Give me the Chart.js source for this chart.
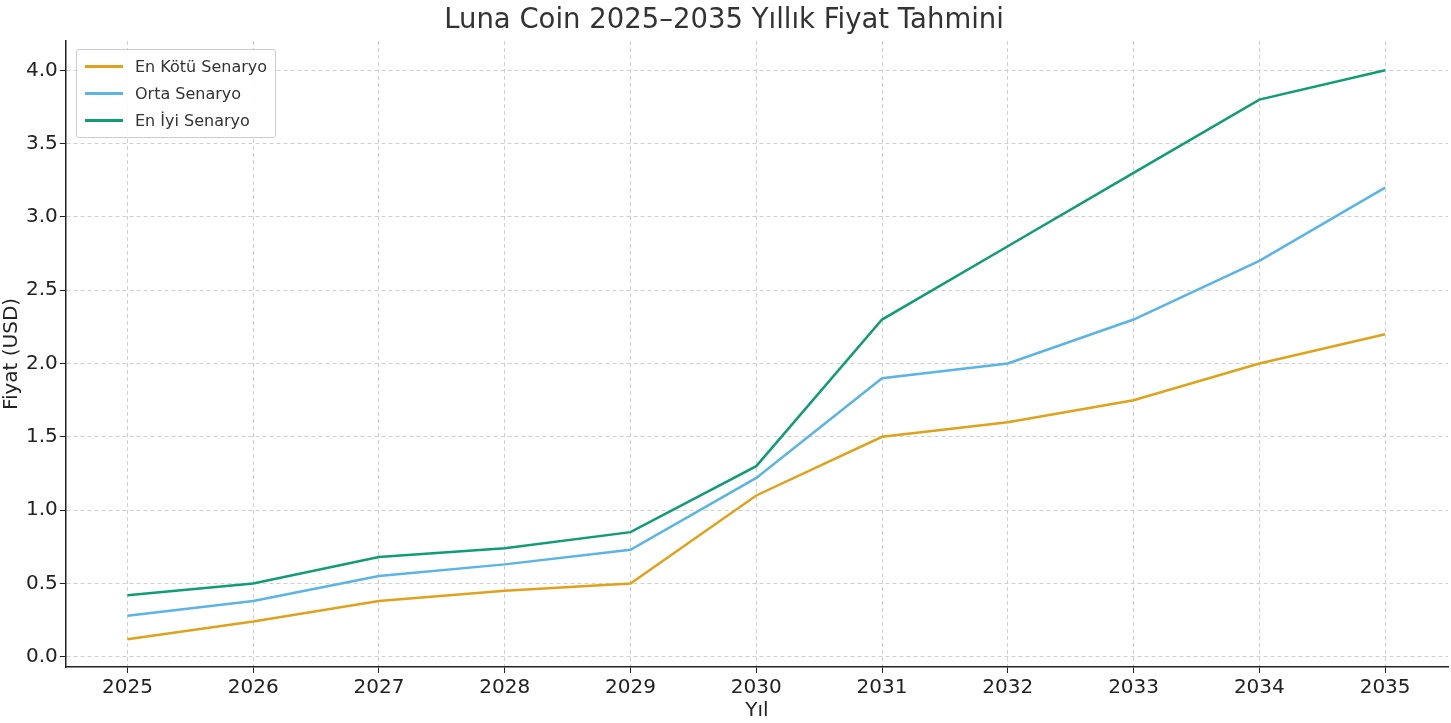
<!DOCTYPE html>
<html lang="tr">
<head>
<meta charset="UTF-8">
<title>Luna Coin</title>
<script src="https://cdn.jsdelivr.net/npm/chart.js"></script>
<style>
  body { margin: 0; background: #fff; }
  #wrap { position: relative; width: 1451px; height: 723px; }
  #legend { position: absolute; left: 76px; top: 49px; border: 1px solid #ccc; border-radius: 3px;
    background: rgba(255,255,255,0.9); padding: 3px 8px; font: 16px "DejaVu Sans", sans-serif; color: #333; }
  #legend div { display: flex; align-items: center; height: 27px; }
  #legend span.sw { display: inline-block; width: 38px; height: 2.5px; margin-right: 12px; }
</style>
</head>
<body>
<div id="wrap">
  <canvas id="c" width="1451" height="723"></canvas>
  <div id="legend"></div>
</div>
<script>
// veriler
const years = [2025, 2026, 2027, 2028, 2029, 2030, 2031, 2032, 2033, 2034, 2035];
const seriesNames = ['En Kötü Senaryo', 'Orta Senaryo', 'En İyi Senaryo'];
const seriesColors = ['#e0a21a', '#5ab4e5', '#109d74'];
const worst = [0.12, 0.24, 0.38, 0.45, 0.50, 1.10, 1.50, 1.60, 1.75, 2.00, 2.20];
const middle = [0.28, 0.38, 0.55, 0.63, 0.73, 1.22, 1.90, 2.00, 2.30, 2.70, 3.20];
const best = [0.42, 0.50, 0.68, 0.74, 0.85, 1.30, 2.30, 2.80, 3.30, 3.80, 4.00];

const allValues = [worst, middle, best];
const font = "'DejaVu Sans', sans-serif";

const datasets = allValues.map((vals, i) => ({
  label: seriesNames[i],
  data: vals.map((v, j) => ({ x: years[j], y: v })),
  borderColor: seriesColors[i],
  backgroundColor: seriesColors[i],
  borderWidth: 2.5,
  pointRadius: 0,
  tension: 0,
  fill: false
}));

// leyenda en HTML
const legend = document.getElementById('legend');
seriesNames.forEach((name, i) => {
  const row = document.createElement('div');
  row.innerHTML = `<span class="sw" style="background:${seriesColors[i]}"></span>${name}`;
  legend.appendChild(row);
});

new Chart(document.getElementById('c'), {
  type: 'line',
  data: { datasets },
  options: {
    responsive: false,
    animation: false,
    layout: { padding: { left: 0, right: 3, top: 0, bottom: 0 } },
    plugins: {
      legend: { display: false },
      tooltip: { enabled: false },
      title: {
        display: true,
        text: 'Luna Coin 2025–2035 Yıllık Fiyat Tahmini',
        color: '#333',
        font: { family: font, size: 27.5, weight: 'normal' },
        padding: { top: 4, bottom: 4 }
      }
    },
    scales: {
      x: {
        type: 'linear',
        min: 2024.51,
        max: 2035.5,
        afterBuildTicks: s => { s.ticks = years.map(v => ({ value: v })); },
        ticks: { color: '#222', font: { family: font, size: 20 }, callback: v => String(v), padding: 3 },
        grid: { color: '#d0d0d0', tickLength: 6, tickColor: '#222' },
        border: { color: '#222', width: 1.5, dash: [4, 3] },
        title: { display: true, text: 'Yıl', color: '#222', font: { family: font, size: 20 }, padding: { top: -4, bottom: 0 } }
      },
      y: {
        min: -0.07,
        max: 4.2,
        afterBuildTicks: s => {
          const t = [];
          for (let v = 0; v <= 4.0001; v += 0.5) t.push({ value: Math.round(v * 10) / 10 });
          s.ticks = t;
        },
        ticks: { color: '#222', font: { family: font, size: 20 }, callback: v => v.toFixed(1), padding: 2 },
        grid: { color: '#d0d0d0', tickLength: 6, tickColor: '#222' },
        border: { color: '#222', width: 1.5, dash: [4, 3] },
        title: { display: true, text: 'Fiyat (USD)', color: '#222', font: { family: font, size: 20 }, padding: { top: 0, bottom: 0 } }
      }
    }
  }
});
</script>
</body>
</html>
